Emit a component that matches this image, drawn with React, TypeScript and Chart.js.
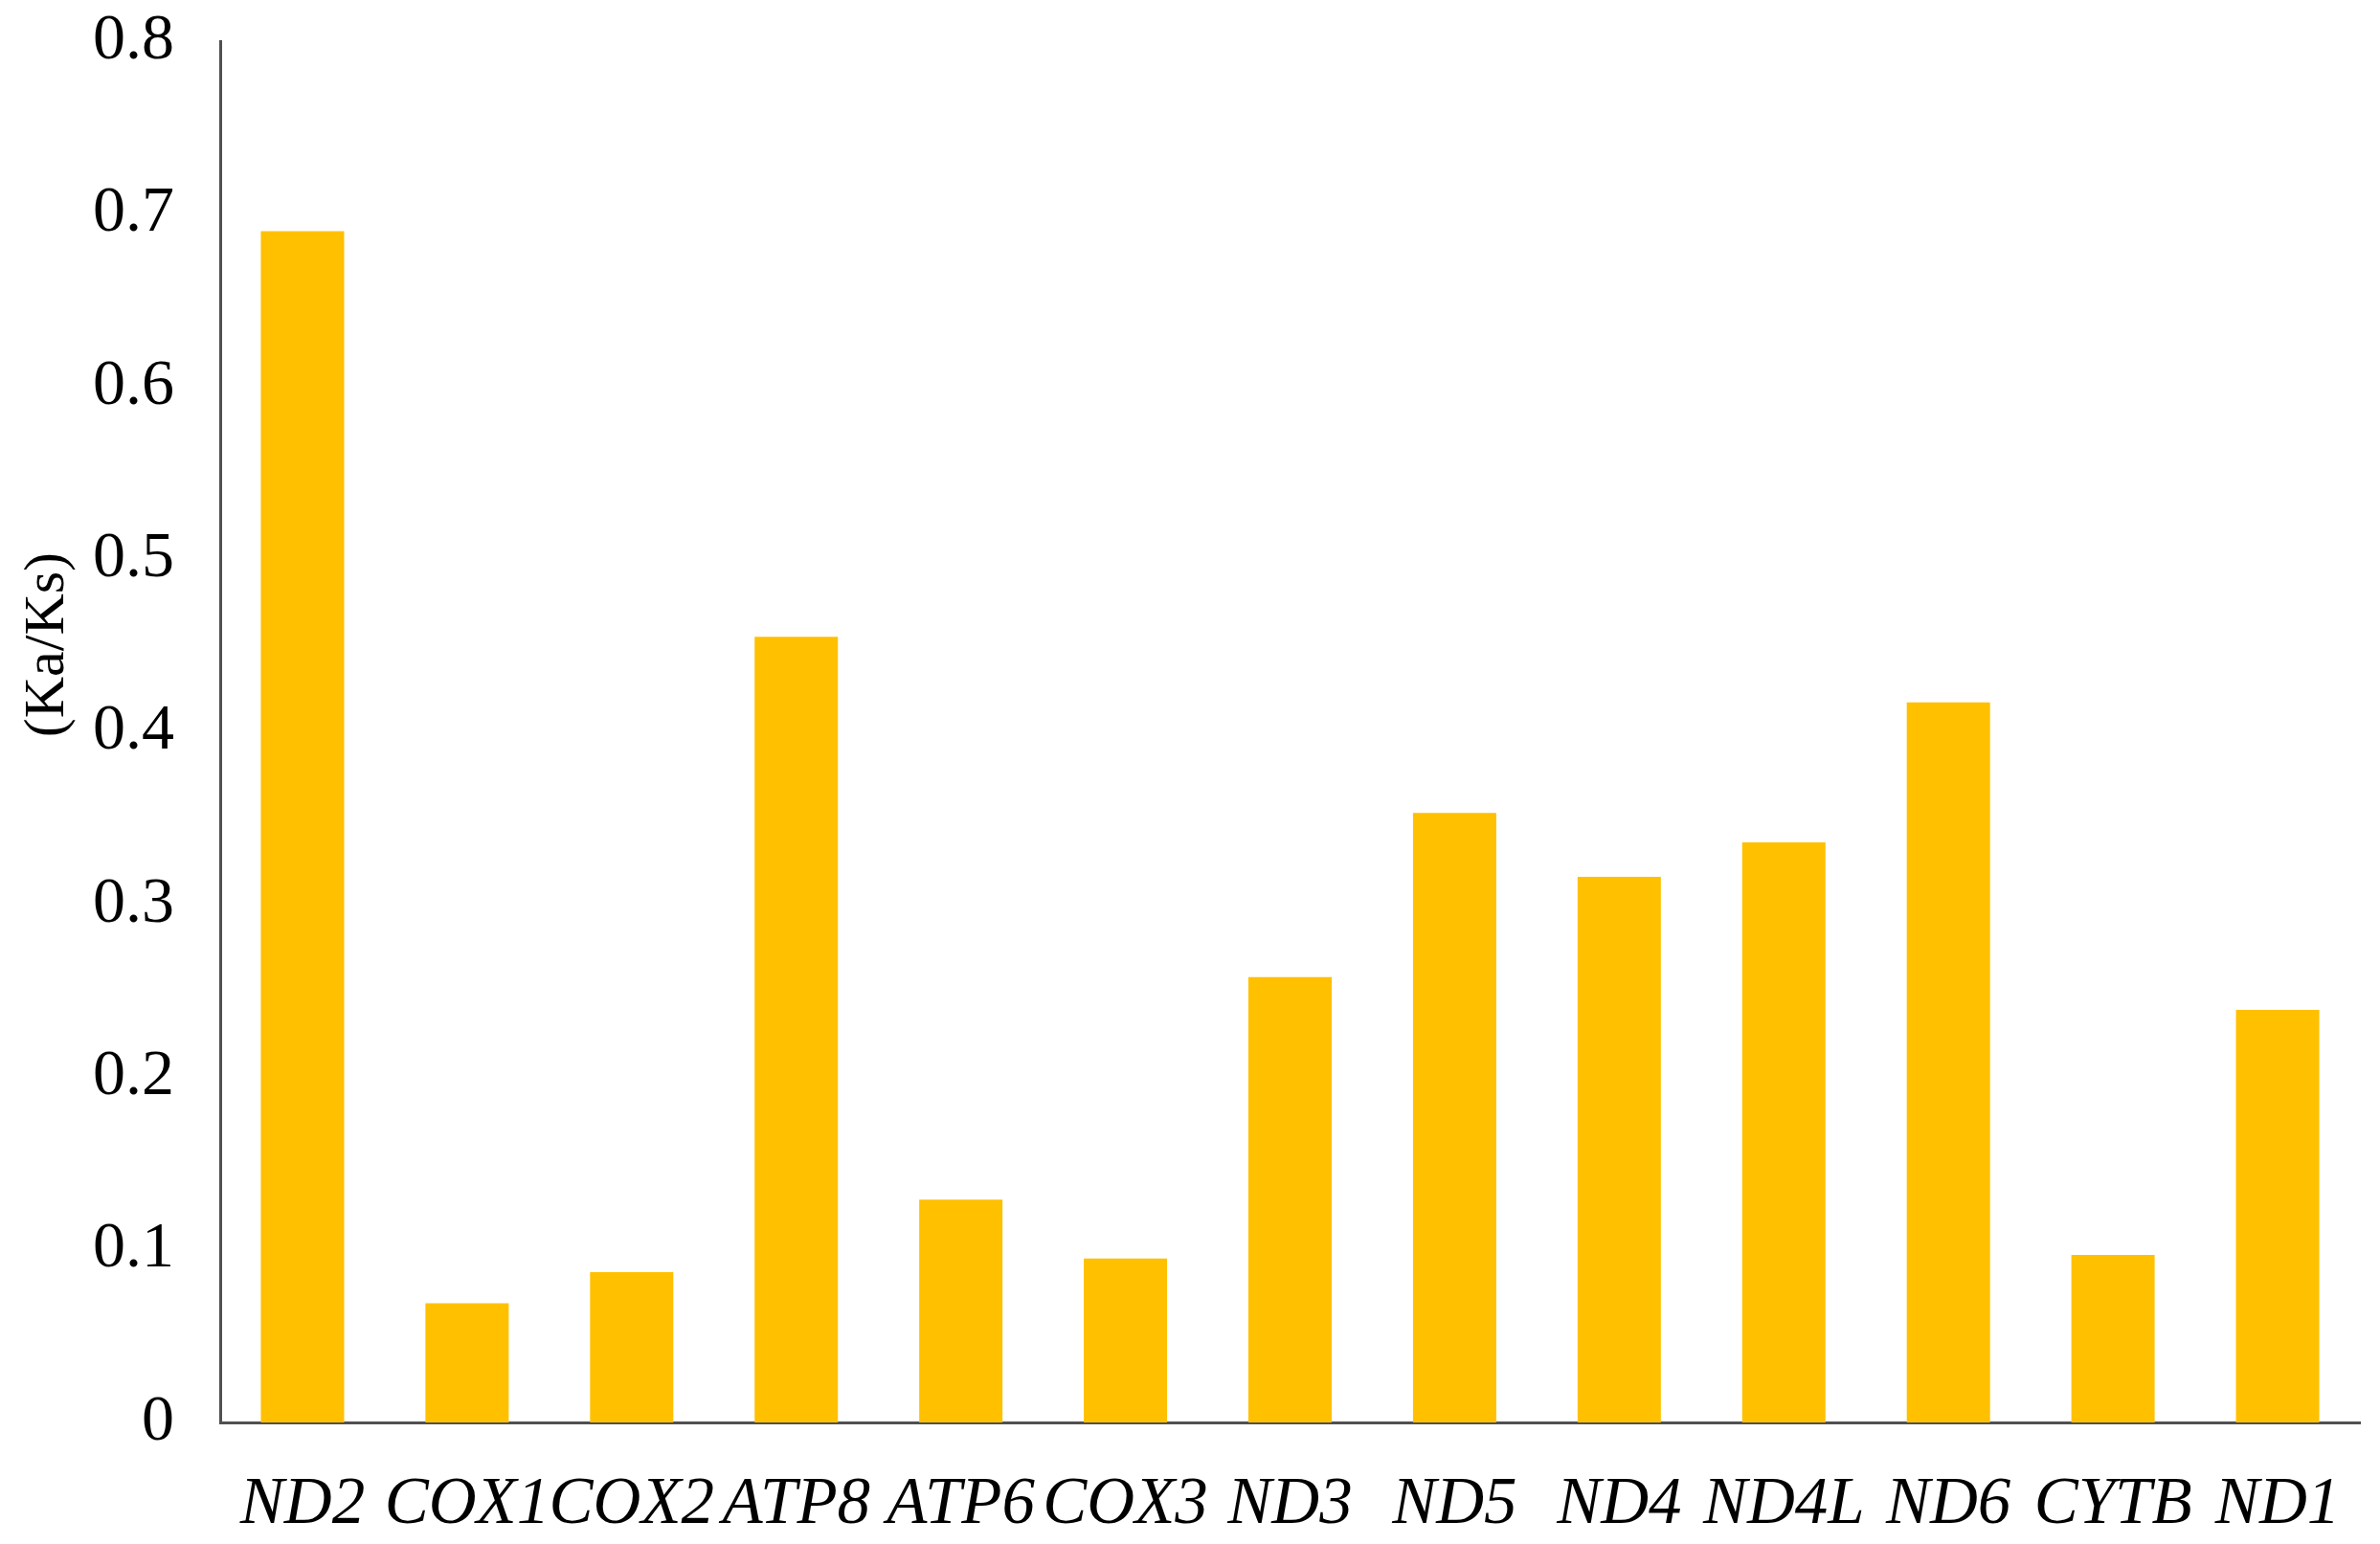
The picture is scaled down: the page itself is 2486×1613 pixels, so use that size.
import React, { useEffect, useRef } from "react";
import { Chart, registerables } from "chart.js";

Chart.register(...registerables);

const genes = ["ND2", "COX1", "COX2", "ATP8", "ATP6", "COX3", "ND3", "ND5", "ND4", "ND4L", "ND6", "CYTB", "ND1"];
const kaKs = [0.690, 0.069, 0.087, 0.455, 0.129, 0.095, 0.258, 0.353, 0.316, 0.336, 0.417, 0.097, 0.239];
const yTickLabels = ["0", "0.1", "0.2", "0.3", "0.4", "0.5", "0.6", "0.7", "0.8"];
const yTitle = "(Ka/Ks)";

const W = 2486;
const H = 1613;
const SERIF = "'Liberation Serif', 'Times New Roman', serif";

const yTitlePlugin = {
  id: "yTitlePlugin",
  afterDraw(chart: any) {
    const ctx = chart.ctx;
    const area = chart.chartArea;
    ctx.save();
    ctx.font = `60px ${SERIF}`;
    ctx.fillStyle = "#000";
    ctx.textAlign = "center";
    ctx.textBaseline = "middle";
    const cy = area.top + (area.bottom - area.top) * 0.437;
    ctx.translate(50, cy);
    ctx.rotate(-Math.PI / 2);
    ctx.fillText(yTitle, 0, 0);
    ctx.restore();
  },
};

export default function App() {
  const ref = useRef<HTMLCanvasElement>(null);

  useEffect(() => {
    document.body.style.margin = "0";
    const canvas = ref.current!;
    const chart = new Chart(canvas, {
      type: "bar",
      data: {
        labels: genes,
        datasets: [
          {
            data: kaKs,
            backgroundColor: "#FFC000",
            borderWidth: 0,
            barPercentage: 0.506,
            categoryPercentage: 1,
          },
        ],
      },
      options: {
        responsive: false,
        animation: false,
        devicePixelRatio: 1,
        layout: { padding: { top: 43, right: 21, left: 0, bottom: 0 } },
        plugins: {
          legend: { display: false },
          tooltip: { enabled: false },
          title: { display: false },
        },
        scales: {
          x: {
            grid: { display: false, drawTicks: false },
            border: { display: true, color: "#505050", width: 3 },
            ticks: {
              color: "#000",
              font: { family: SERIF, size: 69, style: "italic" },
              padding: 45,
              maxRotation: 0,
              autoSkip: false,
            },
            afterFit(scale: any) {
              scale.height = 127;
              scale.paddingLeft = 0;
              scale.paddingRight = 0;
            },
          },
          y: {
            min: 0,
            max: 0.8,
            grid: { display: false, drawTicks: false },
            border: { display: true, color: "#505050", width: 3 },
            ticks: {
              stepSize: 0.1,
              color: "#000",
              font: { family: SERIF, size: 68 },
              padding: 48,
              callback: (_v: any, i: number) => yTickLabels[i],
            },
            afterFit(scale: any) {
              scale.width = 230;
              scale.paddingTop = 0;
              scale.paddingBottom = 0;
            },
          },
        },
      },
      plugins: [yTitlePlugin],
    });
    return () => chart.destroy();
  }, []);

  return (
    <div style={{ width: W, height: H, background: "#fff" }}>
      <canvas ref={ref} width={W} height={H} style={{ display: "block", width: W, height: H }} />
    </div>
  );
}
